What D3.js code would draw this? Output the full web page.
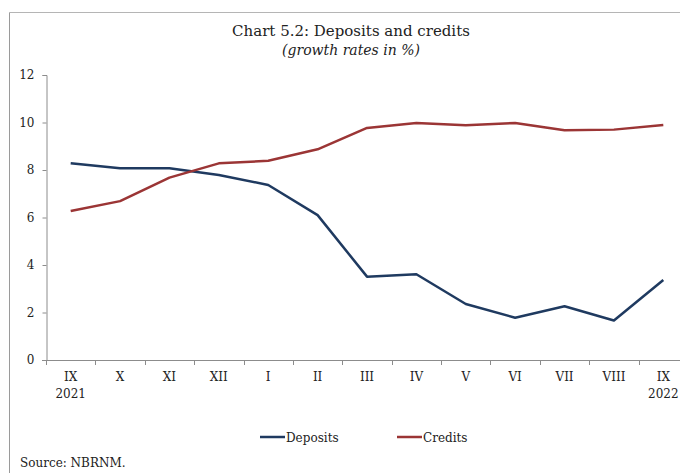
<!DOCTYPE html>
<html>
<head>
<meta charset="utf-8">
<script src="https://cdn.jsdelivr.net/npm/d3@7"></script>
<style>
  html, body { margin: 0; padding: 0; background: #fff; }
  svg { display: block; font-family: "DejaVu Serif", serif; }
</style>
</head>
<body>
<svg id="chart" width="680" height="473"></svg>
<script>
const months = ["IX", "X", "XI", "XII", "I", "II", "III", "IV", "V", "VI", "VII", "VIII", "IX "];
const yearLabels = ["2021", "", "", "", "", "", "", "", "", "", "", "", "2022"];
const deposits = [8.28, 8.07, 8.07, 7.79, 7.37, 6.1, 3.51, 3.61, 2.36, 1.78, 2.26, 1.66, 3.37];
const credits = [6.27, 6.69, 7.68, 8.28, 8.39, 8.87, 9.77, 9.98, 9.88, 9.98, 9.67, 9.70, 9.89];
const yTicks = [0, 2, 4, 6, 8, 10, 12];

const svg = d3.select("#chart");
const axisColor = "#8c8c8c";
const textColor = "#222";
const depColor = "#1f3a60";
const credColor = "#9b3535";

// frame
svg.append("line").attr("x1", 9.5).attr("x2", 680).attr("y1", 12.5).attr("y2", 12.5)
  .attr("stroke", "#b5b5b5").attr("stroke-width", 1);
svg.append("line").attr("x1", 9.5).attr("x2", 9.5).attr("y1", 12.5).attr("y2", 473)
  .attr("stroke", "#9a9a9a").attr("stroke-width", 1);

// title
svg.append("text").attr("x", 351).attr("y", 36).attr("text-anchor", "middle")
  .attr("font-size", 15).attr("fill", textColor).text("Chart 5.2: Deposits and credits");
svg.append("text").attr("x", 351).attr("y", 55).attr("text-anchor", "middle")
  .attr("font-size", 14).attr("font-style", "italic").attr("fill", textColor).text("(growth rates in %)");

const x = d3.scaleBand().domain(months).range([46, 688]);
const y = d3.scaleLinear().domain([0, 12]).range([360, 75]);

// y axis
const yAxis = svg.append("g").attr("transform", "translate(46.5,0)")
  .call(d3.axisLeft(y).tickValues(yTicks).tickSize(4).tickPadding(8).tickFormat(d3.format("d")));
yAxis.select(".domain").attr("stroke", axisColor);
yAxis.selectAll(".tick line").attr("stroke", axisColor);
yAxis.selectAll("text").attr("font-size", 12).attr("fill", textColor).attr("font-family", "DejaVu Serif, serif");

// x axis
const xAxis = svg.append("g").attr("transform", "translate(0,360.5)")
  .call(d3.axisBottom(x).tickSize(0).tickPadding(12));
xAxis.select(".domain").attr("stroke", axisColor).attr("d", "M42,0H688");
xAxis.selectAll("text").attr("font-size", 12).attr("fill", textColor).attr("font-family", "DejaVu Serif, serif");
// category boundary ticks
const bounds = months.map(m => x(m)).concat([x(months[months.length - 1]) + x.bandwidth()]);
svg.append("g").selectAll("line").data(bounds).join("line")
  .attr("x1", d => Math.round(d) + 0.5).attr("x2", d => Math.round(d) + 0.5)
  .attr("y1", 360).attr("y2", 365).attr("stroke", axisColor);
// year labels
svg.append("g").selectAll("text").data(months).join("text")
  .attr("x", d => x(d) + x.bandwidth() / 2).attr("y", 398)
  .attr("text-anchor", "middle").attr("font-size", 12).attr("fill", textColor)
  .text((d, i) => yearLabels[i]);

const cx = d => x(d) + x.bandwidth() / 2;
const line = d3.line().x((d, i) => cx(months[i])).y(d => y(d));

svg.append("path").datum(deposits).attr("d", line).attr("fill", "none")
  .attr("stroke", depColor).attr("stroke-width", 2.5).attr("stroke-linejoin", "round");
svg.append("path").datum(credits).attr("d", line).attr("fill", "none")
  .attr("stroke", credColor).attr("stroke-width", 2.5).attr("stroke-linejoin", "round");

// legend
const legend = [
  { name: "Deposits", color: depColor, x: 260 },
  { name: "Credits", color: credColor, x: 397 }
];
const lg = svg.append("g").selectAll("g").data(legend).join("g")
  .attr("transform", d => `translate(${d.x},437)`);
lg.append("line").attr("x1", 0).attr("x2", 25).attr("y1", 0).attr("y2", 0)
  .attr("stroke", d => d.color).attr("stroke-width", 2.5);
lg.append("text").attr("x", 26).attr("y", 4.5).attr("font-size", 12).attr("fill", textColor)
  .text(d => d.name);

// source
svg.append("text").attr("x", 20).attr("y", 467).attr("font-size", 12).attr("fill", textColor)
  .text("Source: NBRNM.");
</script>
</body>
</html>
